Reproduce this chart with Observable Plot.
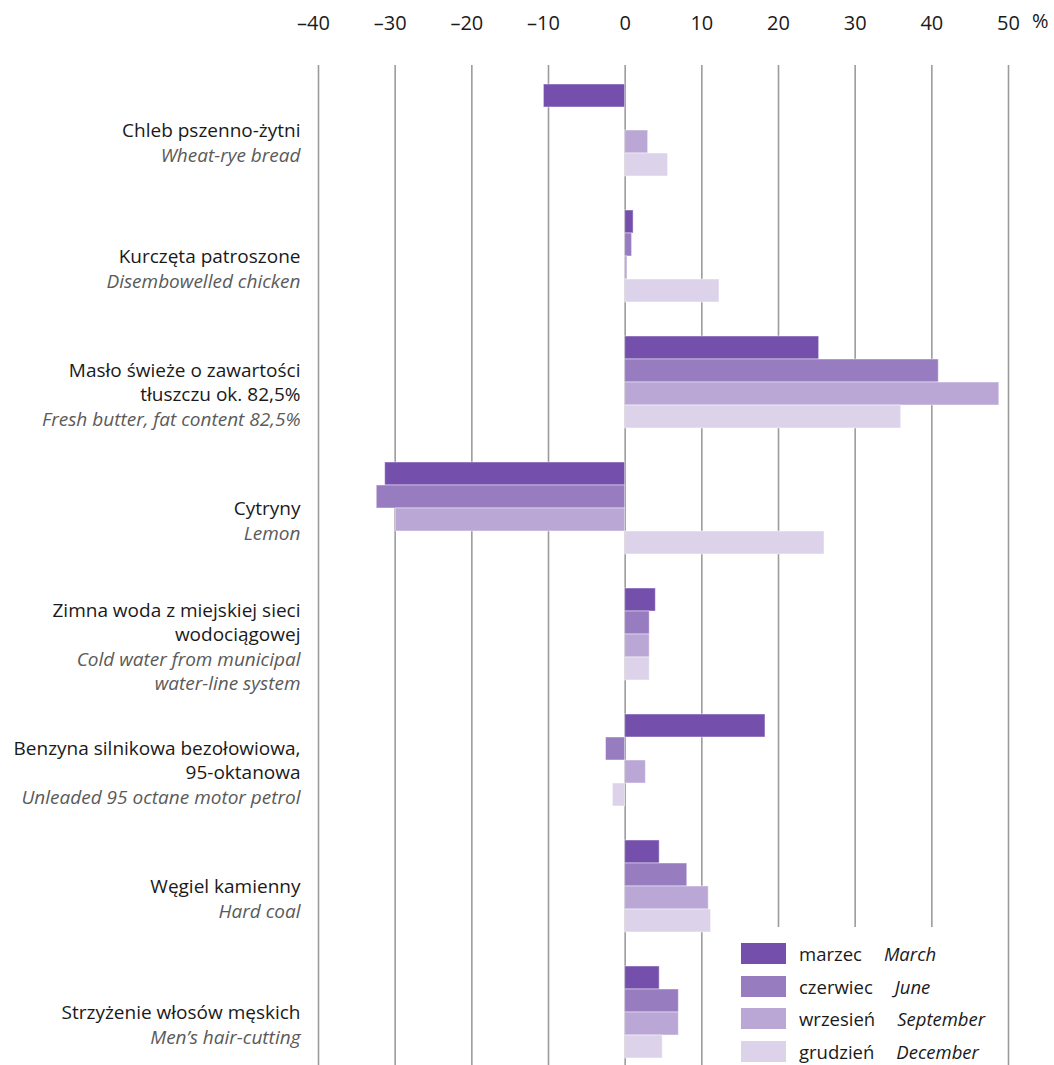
<!DOCTYPE html>
<html>
<head>
<meta charset="utf-8">
<script src="https://cdn.jsdelivr.net/npm/d3@7"></script>
<script src="https://cdn.jsdelivr.net/npm/@observablehq/plot@0.6"></script>
<style>
  html, body { margin: 0; padding: 0; background: white; overflow: hidden; }
  #wrap { position: relative; width: 1054px; height: 1065px; overflow: hidden; font-family: "Open Sans", sans-serif; }
  #pct { position: absolute; left: 1032px; top: 7px; font-size: 20px; color: #1a1a1a; }
  #legend { position: absolute; left: 726px; top: 927px; width: 274px; height: 140px; background: white; }
  .row { position: absolute; left: 15px; display: flex; align-items: center; font-size: 18.5px; color: #1a1a1a; }
  .sw { width: 45px; height: 21px; margin-right: 13px; }
  .en { font-style: italic; margin-left: 22px; }
</style>
</head>
<body>
<div id="wrap"><div id="chart"></div><div id="pct">%</div><div id="legend"></div></div>
<script>
const categoriesPL = [
  "Chleb pszenno-żytni",
  "Kurczęta patroszone",
  "Masło świeże o zawartości\ntłuszczu ok. 82,5%",
  "Cytryny",
  "Zimna woda z miejskiej sieci\nwodociągowej",
  "Benzyna silnikowa bezołowiowa,\n95-oktanowa",
  "Węgiel kamienny",
  "Strzyżenie włosów męskich"
];
const categoriesEN = [
  "Wheat-rye bread",
  "Disembowelled chicken",
  "Fresh butter, fat content 82,5%",
  "Lemon",
  "Cold water from municipal\nwater-line system",
  "Unleaded 95 octane motor petrol",
  "Hard coal",
  "Men’s hair-cutting"
];
const monthsPL = ["marzec", "czerwiec", "wrzesień", "grudzień"];
const monthsEN = ["March", "June", "September", "December"];
const march     = [-10.6, 1.1, 25.3, -31.3, 4.0, 18.3, 4.5, 4.5];
const june      = [0.0, 0.9, 40.9, -32.4, 3.2, -2.5, 8.1, 7.0];
const september = [3.0, 0.3, 48.8, -29.9, 3.2, 2.7, 10.9, 7.0];
const december  = [5.6, 12.3, 36.0, 26.0, 3.2, -1.6, 11.2, 4.9];
const xTicks = [-40, -30, -20, -10, 0, 10, 20, 30, 40, 50];
const colors = ["#7450ac", "#977cc0", "#baa7d6", "#dcd3ea"];

const series = [march, june, september, december];
const rows = [];
categoriesPL.forEach((c, i) => {
  monthsPL.forEach((m, j) => rows.push({cat: c, month: m, value: series[j][i]}));
});

// label layout (styling)
const FS = 19, LH = 24.5, OFF = 10;
const nLines = s => s.split("\n").length;
const labels = categoriesPL.map((pl, i) => ({cat: pl, pl, en: categoriesEN[i], np: nLines(pl), ne: nLines(categoriesEN[i])}));
const groups = d3.groups(labels, d => d.np + "," + d.ne);
const labelMarks = [];
for (const [, g] of groups) {
  const np = g[0].np, ne = g[0].ne, total = np + ne;
  const top = OFF - 0.35 * FS - (total - 1) * LH / 2;
  labelMarks.push(Plot.text(g, {fy: "cat", text: "pl", frameAnchor: "left", dx: -18, dy: top, textAnchor: "end",
    lineAnchor: "top", lineHeight: LH / FS, fill: "#1a1a1a", fontSize: FS}));
  labelMarks.push(Plot.text(g, {fy: "cat", text: "en", frameAnchor: "left", dx: -18, dy: top + np * LH, textAnchor: "end",
    lineAnchor: "top", lineHeight: LH / FS, fill: "#5a5a5a", fontStyle: "italic", fontSize: FS}));
}

const fmt = d => d < 0 ? "\u2013" + Math.abs(d) + "\u2002" : String(d);
const useAxisMark = typeof Plot.axisX === "function";

const chart = Plot.plot({
  width: 1054,
  height: 1073,
  marginTop: 65,
  marginBottom: 0,
  marginLeft: 318,
  marginRight: 46,
  style: {fontFamily: "Open Sans, sans-serif", fontSize: "20px", color: "#1a1a1a", background: "white"},
  x: {domain: [-40, 50], axis: useAxisMark ? null : "top", ticks: xTicks, tickSize: 0, tickPadding: 36, label: null, tickFormat: fmt},
  y: {domain: monthsPL, axis: null, padding: 0, insetTop: 19, insetBottom: 15},
  fy: {domain: categoriesPL, axis: null, padding: 0},
  color: {domain: monthsPL, range: colors},
  marks: [
    Plot.ruleX(xTicks, {stroke: "#9c9c9c", strokeWidth: 1.6}),
    Plot.barX(rows, {fy: "cat", y: "month", x: "value", fill: "month", stroke: "white", strokeOpacity: 0.45, strokeWidth: 1}),
    ...labelMarks,
    ...(useAxisMark ? [Plot.axisX(xTicks, {anchor: "top", tickSize: 0, tickPadding: 36, label: null, tickFormat: fmt, fontSize: 20, fill: "#1a1a1a"})] : [])
  ]
});
document.getElementById("chart").appendChild(chart);

const legend = document.getElementById("legend");
const tops = [14, 46.5, 79, 112];
monthsPL.forEach((m, j) => {
  const row = document.createElement("div");
  row.className = "row";
  row.style.top = tops[j] + "px";
  row.innerHTML = `<div class="sw" style="background:${colors[j]}"></div><span>${m}</span><span class="en">${monthsEN[j]}</span>`;
  legend.appendChild(row);
});
</script>
</body>
</html>
